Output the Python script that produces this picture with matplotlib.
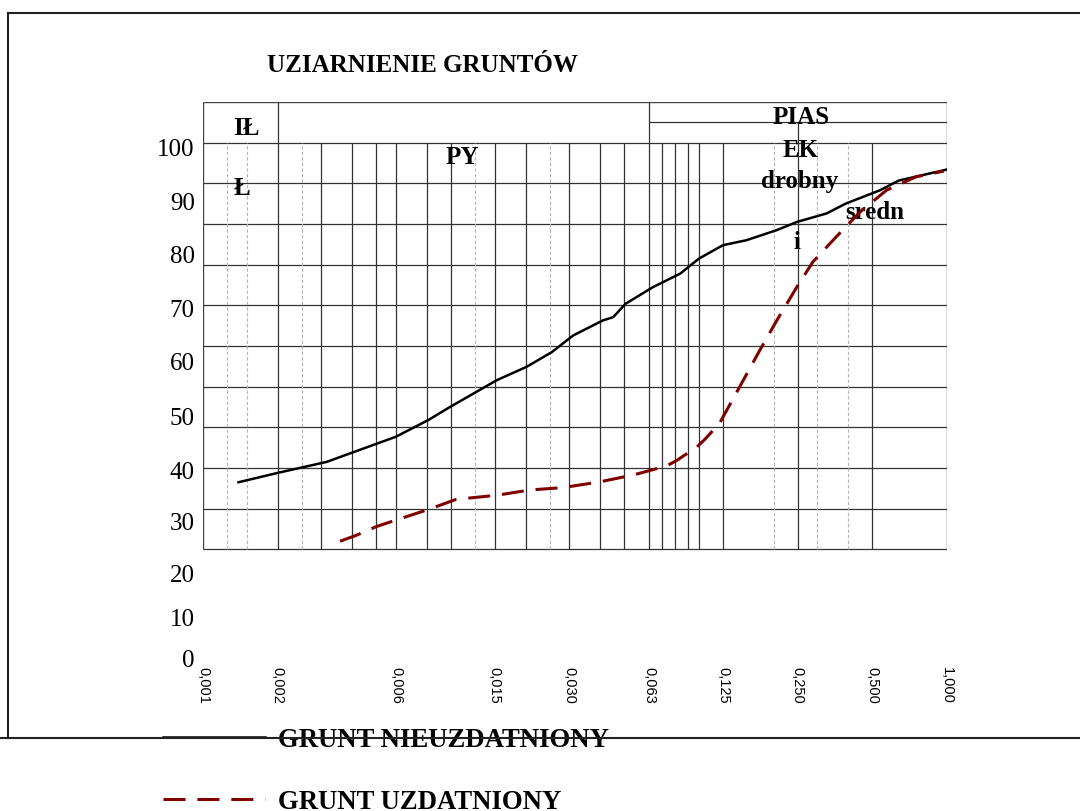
import matplotlib.pyplot as plt
from matplotlib.lines import Line2D

# grain size (mm) and percent passing, in grid units of the chart
black_d = [0.00139, 0.002, 0.00315, 0.00417, 0.006, 0.0081, 0.0099, 0.0153, 0.0202,
           0.0255, 0.0311, 0.041, 0.0451, 0.0506, 0.0653, 0.084, 0.1, 0.125, 0.155,
           0.206, 0.248, 0.327, 0.39, 0.537, 0.64, 1.0]
black_p = [16.5, 18.8, 21.5, 24.2, 27.7, 31.8, 35.0, 41.6, 44.9, 48.5, 52.6, 56.3,
           57.1, 60.4, 64.5, 67.8, 71.5, 74.8, 76.0, 78.5, 80.5, 82.6, 85.0, 88.3,
           90.7, 93.4]

red_d = [0.00357, 0.00417, 0.005, 0.006, 0.0081, 0.0105, 0.0153, 0.0208, 0.0284,
         0.0398, 0.0544, 0.074, 0.0815, 0.0981, 0.105, 0.121, 0.146, 0.176, 0.206,
         0.248, 0.288, 0.357, 0.445, 0.57, 0.75, 0.97]
red_p = [2.0, 3.5, 5.6, 7.2, 9.8, 12.3, 13.3, 14.6, 15.2, 16.6, 18.3, 20.5, 21.9,
         25.2, 26.9, 31.0, 40.0, 49.0, 56.3, 64.5, 70.7, 76.8, 82.9, 88.3, 91.6, 93.0]

x_ticks = [0.001, 0.002, 0.006, 0.015, 0.03, 0.063, 0.125, 0.25, 0.5, 1.0]
x_labels = ['0,001', '0,002', '0,006', '0,015', '0,030', '0,063', '0,125', '0,250', '0,500', '1,000']
grid_solid = [0.002, 0.003, 0.004, 0.005, 0.006, 0.008, 0.01, 0.015, 0.02, 0.03, 0.04,
              0.05, 0.063, 0.071, 0.08, 0.09, 0.1, 0.125, 0.25, 0.5]
grid_dashed = [0.00125, 0.0015, 0.0025, 0.0125, 0.025, 0.2, 0.3, 0.4]

# y labels do not sit on the grid lines in the original, keep their read positions
y_labels = ['100', '90', '80', '70', '60', '50', '40', '30', '20', '10', '0']
y_label_at = [98.8, 85.5, 72.4, 59.2, 46.1, 32.7, 19.5, 6.8, -6.0, -16.8, -26.9]

serif = 'Liberation Serif'
red = '#800000'

fig = plt.figure(figsize=(10.8, 8.11), dpi=100)
ax = fig.add_axes([203 / 1080, 1 - 667.3 / 811, 744 / 1080, 565.3 / 811])
ax.set_xscale('log')
ax.set_xlim(0.001, 1.0)
ax.set_ylim(-29, 110)
for s in ax.spines.values():
    s.set_visible(False)

# grid
ax.hlines(range(0, 101, 10), 0.001, 1.0, color='#333333', lw=0.9)
ax.vlines(grid_solid, 0, 100, color='#333333', lw=0.9)
ax.vlines(grid_dashed, 0, 100, color='#b5b5b5', lw=0.8, linestyles=(0, (3, 2)))

# header boxes
ax.vlines([0.001, 1.0], 0, 110, color='#444444', lw=1.0)
ax.hlines(110, 0.001, 1.0, color='#444444', lw=1.0)
ax.hlines(105, 0.063, 1.0, color='#333333', lw=0.9)
ax.vlines([0.002, 0.063], 100, 110, color='#333333', lw=0.9)
ax.vlines(0.25, 100, 105, color='#333333', lw=0.9)

# curves
ax.plot(black_d, black_p, color='black', lw=1.8, label='GRUNT NIEUZDATNIONY', zorder=3)
ax.plot(red_d, red_p, color=red, lw=2.2, dashes=(7.2, 3.9),
        label='GRUNT UZDATNIONY', zorder=4)

# ticks
ax.set_xticks(x_ticks, x_labels, rotation=270, fontsize=10.5, family='Liberation Sans')
ax.minorticks_off()
ax.set_yticks(y_label_at, y_labels, fontsize=18, family=serif)
ax.tick_params(axis='both', length=0)
ax.tick_params(axis='x', pad=0)
ax.tick_params(axis='y', pad=6)
for t in ax.get_xticklabels():
    t.set_va('top')
    t.set_ha('center')

# fraction names
lab = dict(fontsize=18, fontweight='bold', family=serif, ha='center', va='center')
ax.text(0.0015, 103.6, 'IŁ', **lab)
ax.text(0.00143, 88.8, 'Ł', **lab)
ax.text(0.0111, 96.4, 'PY', **lab)
ax.text(0.258, 106.1, 'PIAS', **lab)
ax.text(0.257, 98.0, 'EK', **lab)
ax.text(0.2536, 90.5, 'drobny', **lab)
ax.text(0.249, 75.5, 'i', **lab)
ax.text(0.51, 82.9, 'sredn', **lab)

fig.text(267 / 1080, 1 - 65 / 811, 'UZIARNIENIE GRUNTÓW', fontsize=18,
         fontweight='bold', family=serif, ha='left', va='center')

leg = fig.legend(loc='upper left', bbox_to_anchor=(163 / 1080, 1 - 727.6 / 811),
                 frameon=False, borderpad=0, borderaxespad=0, handlelength=3.8,
                 handletextpad=0.49, labelspacing=1.38,
                 prop={'family': serif, 'weight': 'bold', 'size': 19.3})

# outer frame
W, H = 1080, 811
frame = dict(color='#222222', lw=1.5, transform=fig.transFigure, zorder=10)
fig.add_artist(Line2D([8 / W, 8 / W], [1 - 13 / H, 1 - 738 / H], **frame))
fig.add_artist(Line2D([8 / W, 1.0], [1 - 13 / H, 1 - 13 / H], **frame))
fig.add_artist(Line2D([0.0, 1.0], [1 - 738 / H, 1 - 738 / H], **frame))

fig.savefig('out.png', dpi=100)
